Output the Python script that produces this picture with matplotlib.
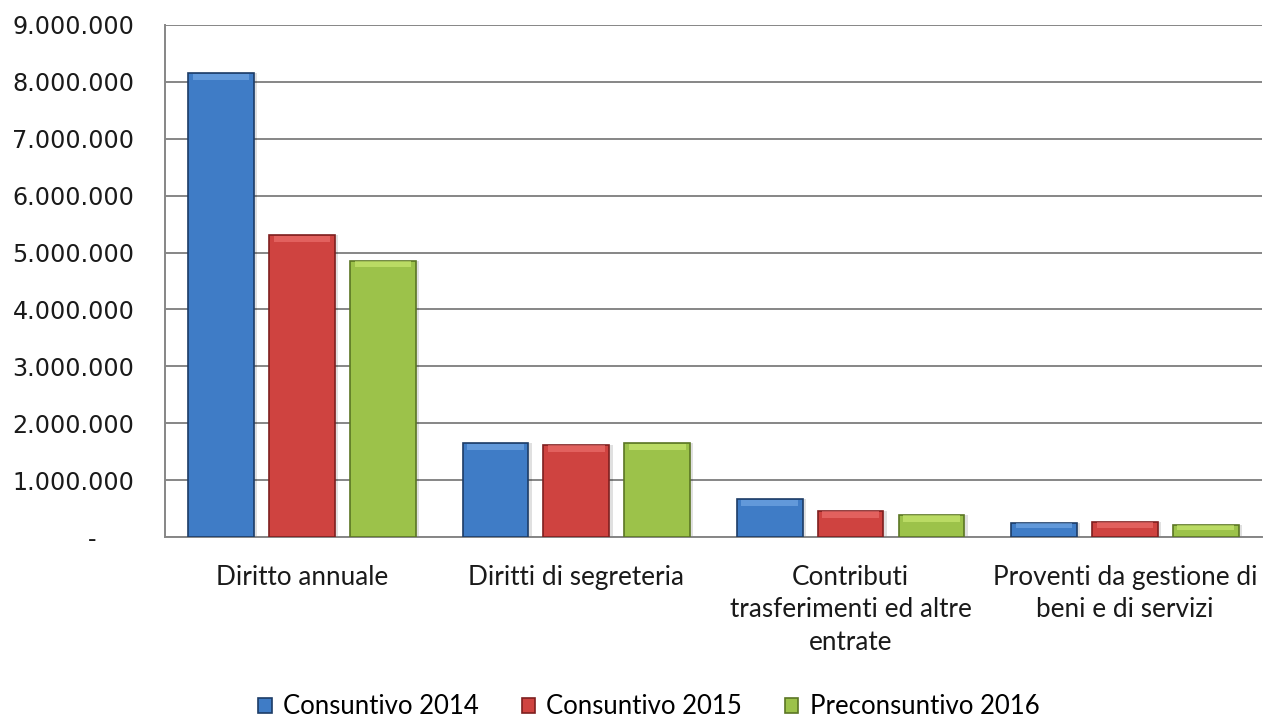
"""Bar chart of revenue categories, consuntivo 2014/2015 vs preconsuntivo 2016."""

import matplotlib
matplotlib.use("Agg")
import matplotlib.pyplot as plt
import numpy as np
from matplotlib.ticker import FuncFormatter

categories = [
    "Diritto annuale",
    "Diritti di segreteria",
    "Contributi\ntrasferimenti ed altre\nentrate",
    "Proventi da gestione di\nbeni e di servizi",
]
consuntivo_2014 = [8150000, 1650000, 665000, 250000]
consuntivo_2015 = [5300000, 1620000, 460000, 270000]
preconsuntivo_2016 = [4860000, 1650000, 390000, 215000]

series_labels = ["Consuntivo 2014", "Consuntivo 2015", "Preconsuntivo 2016"]
y_ticks = [0, 1000000, 2000000, 3000000, 4000000, 5000000, 6000000, 7000000, 8000000, 9000000]

FACE = ["#3f7cc6", "#cf4340", "#9cc24a"]
EDGE = ["#1d3c66", "#7e1f1f", "#5b7624"]
LIGHT = ["#7fb2ec", "#f27a78", "#d4f07a"]


def fmt(v, _pos):
    if v == 0:
        return "-     "
    return f"{int(v):,}".replace(",", ".")


def main() -> int:
    fig = plt.figure(figsize=(12.65, 7.22), dpi=100)
    ax = fig.add_axes([0.1304, 0.2562, 0.8672, 0.7092])

    x = np.arange(len(categories))
    width = 0.24
    step = 0.295
    data = [consuntivo_2014, consuntivo_2015, preconsuntivo_2016]
    handles = []
    for i, vals in enumerate(data):
        pos = x + (i - 1) * step
        # drop shadow
        ax.bar(pos + 0.012, vals, width, color="#000000", alpha=0.12, zorder=2)
        h = ax.bar(pos, vals, width, color=FACE[i], edgecolor=EDGE[i],
                   linewidth=1.2, zorder=3, label=series_labels[i])
        # bevel highlight on top of each bar
        cap = [min(v * 0.35, 110000) for v in vals]
        ax.bar(pos, cap, width * 0.86, bottom=[v - c * 1.1 for v, c in zip(vals, cap)],
               color=LIGHT[i], alpha=0.55, linewidth=0, zorder=4)
        handles.append(h)

    ax.set_xlim(-0.5, len(categories) - 0.5)
    ax.set_ylim(0, 9000000)
    ax.set_yticks(y_ticks)
    ax.yaxis.set_major_formatter(FuncFormatter(fmt))
    ax.grid(axis="y", color="#868686", linewidth=1.4, zorder=0)
    ax.set_axisbelow(True)
    for side in ("top", "right"):
        ax.spines[side].set_visible(False)
    for side in ("left", "bottom"):
        ax.spines[side].set_color("#868686")
        ax.spines[side].set_linewidth(1.4)

    ax.tick_params(axis="y", length=0, pad=22, labelsize=17.2, labelcolor="#1a1a1a")
    ax.tick_params(axis="x", length=0, pad=20)
    ax.set_xticks(x)
    ax.set_xticklabels(categories, fontsize=18.8, family=["Lato", "DejaVu Sans"],
                       color="#1a1a1a", linespacing=1.38)

    fig.legend(handles, series_labels, loc="center", bbox_to_anchor=(0.513, 0.021),
               ncol=3, frameon=False, handlelength=0.52, handleheight=0.52,
               handletextpad=0.45, columnspacing=1.65,
               prop={"family": ["Lato", "DejaVu Sans"], "size": 18.5})

    fig.savefig("out.png", dpi=100)
    plt.close(fig)
    return 0


if __name__ == "__main__":
    raise SystemExit(main())
